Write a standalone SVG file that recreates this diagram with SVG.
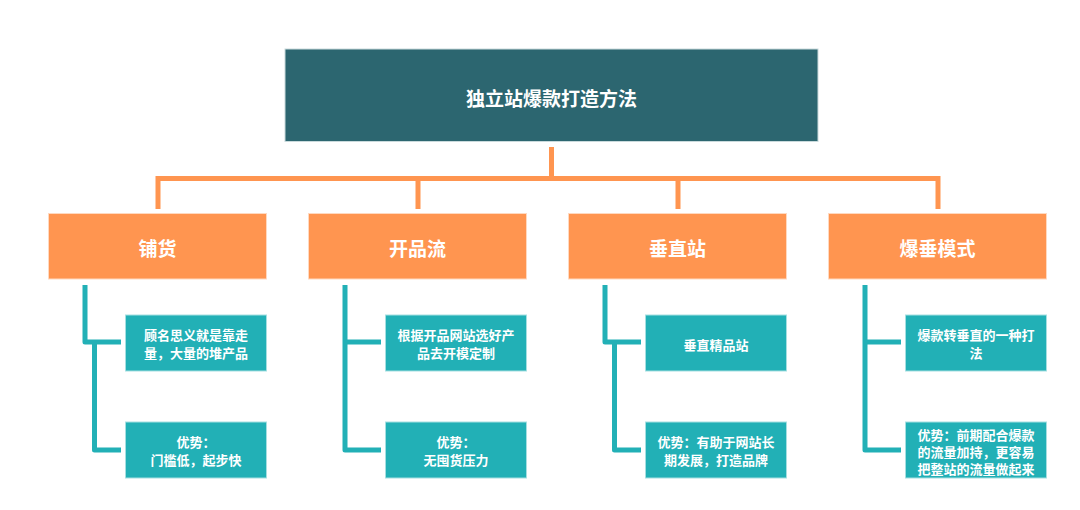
<svg xmlns="http://www.w3.org/2000/svg" width="1080" height="510" viewBox="0 0 1080 510">
<style>
text{font-family:"Noto Sans CJK SC","Noto Sans",sans-serif;font-weight:bold;fill:#ffffff;text-anchor:middle;dominant-baseline:central}
.root{fill:#2c6670;stroke:#c9dadc;stroke-width:1}
.cat{fill:#ff9550;stroke:#ffd9c0;stroke-width:1}
.leaf{fill:#22b0b6;stroke:#a6dfe1;stroke-width:1}
.t1{font-size:19px}
.t2{font-size:19px}
.t3{font-size:13px}
.oc{fill:none;stroke:#ff9550;stroke-width:5}
.tc{fill:none;stroke:#22b0b6;stroke-width:5;stroke-linejoin:round;stroke-linecap:butt}
</style>
<rect width="1080" height="510" fill="#ffffff"/>
<g id="connectors">
<path class="oc" d="M551.5,147V178.5M155.5,178.5H940.5M158,178.5V209M418,178.5V209M678,178.5V209M938,178.5V209"/>
<path class="tc" d="M85,285V342H121M94.5,342V450H121"/>
<path class="tc" d="M345,285V450H381M345,342H381"/>
<path class="tc" d="M605,285V342H641M614.5,342V450H641"/>
<path class="tc" d="M865,285V450H901M865,342H901"/>
</g>
<g id="root">
<rect class="root" x="285" y="49" width="533" height="92.5"/>
<text class="t1" x="551.5" y="97">独立站爆款打造方法</text>
</g>
<g id="c1">
<rect class="cat" x="48.5" y="213.5" width="218" height="65.5"/>
<text class="t2" x="157.5" y="247">铺货</text>
</g>
<g id="c2">
<rect class="cat" x="308.5" y="213.5" width="218" height="65.5"/>
<text class="t2" x="417.5" y="247">开品流</text>
</g>
<g id="c3">
<rect class="cat" x="568.5" y="213.5" width="218" height="65.5"/>
<text class="t2" x="677.5" y="247">垂直站</text>
</g>
<g id="c4">
<rect class="cat" x="828.5" y="213.5" width="218" height="65.5"/>
<text class="t2" x="937.5" y="247">爆垂模式</text>
</g>
<g id="l1a">
<rect class="leaf" x="125.5" y="315" width="141" height="56"/>
<text class="t3" x="196" y="334.5">顾名思义就是靠走</text>
<text class="t3" x="196" y="352.5">量，大量的堆产品</text>
</g>
<g id="l1b">
<rect class="leaf" x="125.5" y="422" width="141" height="56"/>
<text class="t3" x="196" y="441.5">优势：</text>
<text class="t3" x="196" y="459">门槛低，起步快</text>
</g>
<g id="l2a">
<rect class="leaf" x="385.5" y="315" width="141" height="56"/>
<text class="t3" x="456" y="334.5">根据开品网站选好产</text>
<text class="t3" x="456" y="352.5">品去开模定制</text>
</g>
<g id="l2b">
<rect class="leaf" x="385.5" y="422" width="141" height="56"/>
<text class="t3" x="456" y="441.5">优势：</text>
<text class="t3" x="456" y="459">无囤货压力</text>
</g>
<g id="l3a">
<rect class="leaf" x="645.5" y="315" width="141" height="56"/>
<text class="t3" x="716" y="344">垂直精品站</text>
</g>
<g id="l3b">
<rect class="leaf" x="645.5" y="422" width="141" height="56"/>
<text class="t3" x="716" y="441.5">优势：有助于网站长</text>
<text class="t3" x="716" y="459">期发展，打造品牌</text>
</g>
<g id="l4a">
<rect class="leaf" x="905.5" y="315" width="141" height="56"/>
<text class="t3" x="976" y="334.5">爆款转垂直的一种打</text>
<text class="t3" x="976" y="352.5">法</text>
</g>
<g id="l4b">
<rect class="leaf" x="905.5" y="422" width="141" height="56"/>
<text class="t3" x="976" y="434">优势：前期配合爆款</text>
<text class="t3" x="976" y="451">的流量加持，更容易</text>
<text class="t3" x="976" y="468">把整站的流量做起来</text>
</g>
</svg>
